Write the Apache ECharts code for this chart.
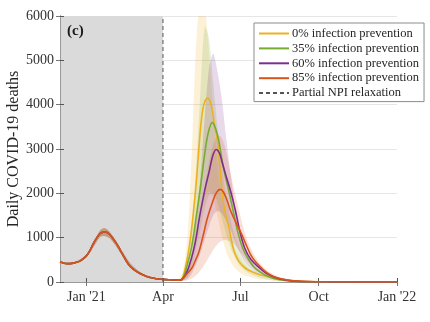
<!DOCTYPE html>
<html><head><meta charset="utf-8">
<script src="https://cdn.jsdelivr.net/npm/echarts@6/dist/echarts.min.js"></script>
<style>html,body{margin:0;padding:0;background:#fff}#c{width:430px;height:322px}</style>
</head><body><div id="c"></div>
<script>
// x values are days counted from 1 Dec 2020
const X_MIN = 0, X_MAX = 396;
const NPI_DAY = 121; // 1 Apr 2021
const Y_MIN = 0, Y_MAX = 6000, Y_STEP = 1000;
const TICK_DAYS = [31, 121, 212, 304, 396];
const TICK_LABELS = ["Jan '21", "Apr", "Jul", "Oct", "Jan '22"];

const NAMES = ['0% infection prevention', '35% infection prevention', '60% infection prevention', '85% infection prevention'];
const NPI_NAME = 'Partial NPI relaxation';
const COLORS = ['#EDB120', '#77AC30', '#7E2F8E', '#D95319'];

// common history (all scenarios)
const BASE_DAYS   = [0, 4, 8, 14, 20, 24, 31, 35, 39, 43, 47, 52, 56, 59, 63, 67, 71, 74.5, 78, 82, 88, 94, 100, 106, 113, 121, 128, 135, 141];
const BASE_DEATHS = [450, 428, 415, 420, 452, 478, 590, 700, 860, 990, 1090, 1130, 1110, 1060, 960, 850, 710, 590, 470, 360, 260, 190, 140, 100, 75, 60, 50, 44, 40];

// scenario projections
const Y0_DAYS  = [144, 147, 151, 154, 156, 159.6, 162.5, 165.7, 169, 173.6, 177.5, 181.3, 185.3, 188.4, 190.4, 192.4, 195, 198.2, 201, 204.1, 208, 211.9, 218, 225.6, 236, 249, 260, 275, 295, 330, 396];
const Y0       = [100, 300, 690, 1100, 1440, 2130, 2830, 3580, 4000, 4150, 4000, 3580, 3150, 2450, 2075, 1750, 1480, 1250, 980, 722, 540, 422, 310, 232, 160, 105, 60, 25, 8, 3, 1];
const G35_DAYS = [145, 149, 153.6, 157, 159.8, 165, 169.6, 174, 179, 183, 186.5, 190, 193.5, 199, 204, 209, 214.7, 220, 227.6, 235, 245.2, 258, 272, 290, 330, 396];
const G35      = [110, 350, 690, 1050, 1436, 2130, 2830, 3350, 3600, 3450, 3200, 2800, 2450, 2000, 1560, 1120, 760, 560, 345, 230, 120, 50, 18, 6, 2, 1];
const P60_DAYS = [146, 150.8, 156.6, 160, 163.7, 170.4, 175.4, 179.5, 183.5, 187.5, 190.5, 194.2, 200.1, 206, 211.9, 217.4, 224, 232.7, 242, 252, 265, 280, 300, 340, 396];
const P60      = [120, 310, 690, 1000, 1436, 2100, 2500, 2850, 2990, 2900, 2700, 2450, 2075, 1625, 1098, 750, 520, 345, 200, 110, 45, 15, 5, 2, 1];
const O85_DAYS = [143.5, 148, 154.8, 159, 163.3, 168.4, 173.1, 179.4, 184, 188.4, 192, 196.2, 200.1, 206, 213, 218, 224, 230, 235.4, 243, 251.5, 260, 272, 290, 320, 396];
const O85      = [70, 160, 309, 480, 684, 1060, 1436, 1812, 2020, 2090, 2030, 1850, 1625, 1370, 1098, 870, 620, 450, 345, 210, 120, 70, 30, 10, 4, 2];

// uncertainty bands
const BASE_BAND_DAYS = [0, 10, 20, 31, 40, 47, 52, 58, 66, 75, 85, 95, 106, 121, 130];
const BASE_LO = [435, 405, 440, 560, 810, 1010, 1040, 990, 800, 540, 300, 175, 92, 52, 42];
const BASE_HI = [465, 430, 470, 620, 900, 1160, 1220, 1140, 920, 640, 370, 215, 112, 68, 50];
const BAND_DAYS = [135, 140, 145, 150, 155, 160, 165, 170, 175, 180, 185, 190, 195, 200, 205, 210, 215, 220, 230, 240, 250, 260, 275, 290, 320, 396];
const Y0_HI  = [45, 80, 300, 1100, 3000, 5400, 6300, 6200, 5200, 3900, 2700, 1900, 1400, 1050, 780, 580, 440, 340, 200, 120, 70, 40, 15, 6, 2, 1];
const Y0_LO  = [40, 35, 40, 150, 500, 1000, 1500, 1900, 2050, 1900, 1500, 1050, 700, 480, 330, 230, 170, 130, 80, 50, 30, 20, 8, 4, 1, 0];
const G35_HI = [42, 45, 150, 500, 1300, 2600, 4300, 5750, 5500, 4500, 3500, 2650, 1950, 1450, 1050, 780, 570, 420, 240, 135, 72, 36, 13, 5, 2, 1];
const G35_LO = [40, 38, 40, 100, 350, 750, 1200, 1650, 1950, 2000, 1800, 1450, 1100, 800, 570, 400, 300, 220, 130, 75, 40, 20, 8, 3, 1, 0];
const P60_HI = [42, 42, 100, 300, 700, 1400, 2400, 3700, 4800, 5150, 4750, 4150, 3300, 2500, 1800, 1250, 900, 650, 350, 200, 110, 55, 20, 7, 2, 1];
const P60_LO = [40, 38, 35, 80, 200, 400, 650, 950, 1250, 1500, 1600, 1550, 1400, 1200, 950, 720, 540, 400, 230, 130, 70, 35, 12, 4, 1, 0];
const O85_HI = [42, 45, 120, 300, 600, 1000, 1500, 2100, 2700, 3100, 3300, 3250, 2950, 2500, 2050, 1650, 1250, 950, 550, 320, 180, 95, 35, 12, 3, 1];
const O85_LO = [40, 30, 20, 40, 80, 150, 260, 400, 560, 720, 850, 930, 950, 920, 850, 720, 600, 470, 280, 160, 90, 45, 15, 5, 1, 0];

const FONT = 'Liberation Serif, Times New Roman, serif';
const pairs = (d, v) => d.map((x, i) => [x, v[i]]);

const scen = [
  {days: Y0_DAYS, vals: Y0, hi: Y0_HI, lo: Y0_LO},
  {days: G35_DAYS, vals: G35, hi: G35_HI, lo: G35_LO},
  {days: P60_DAYS, vals: P60, hi: P60_HI, lo: P60_LO},
  {days: O85_DAYS, vals: O85, hi: O85_HI, lo: O85_LO}
];

const series = [];
series.push({
  name: NPI_NAME, type: 'line', symbol: 'none', z: 4,
  data: [[NPI_DAY, Y_MIN], [NPI_DAY, Y_MAX]],
  lineStyle: {color: '#555', width: 1, type: [4, 3]},
  itemStyle: {color: '#555'},
  markArea: {silent: true, z: 0, itemStyle: {color: '#dadada'}, data: [[{xAxis: X_MIN}, {xAxis: NPI_DAY}]]}
});
// uncertainty bands: one polygon per scenario, placed through the axes with api.coord
scen.forEach((s, i) => {
  const days = BASE_BAND_DAYS.concat(BAND_DAYS);
  const lo = BASE_LO.concat(s.lo);
  const hi = BASE_HI.concat(s.hi);
  const color = COLORS[i];
  series.push({
    type: 'custom', silent: true, z: 2, clip: true,
    data: days.map((d, k) => [d, lo[k], hi[k]]),
    encode: {x: 0, y: [1, 2]},
    renderItem: function (params, api) {
      if (params.dataIndex !== 0) return null;
      const pts = [];
      for (let k = 0; k < days.length; k++) pts.push(api.coord([days[k], hi[k]]));
      for (let k = days.length - 1; k >= 0; k--) pts.push(api.coord([days[k], lo[k]]));
      return {type: 'polygon', shape: {points: pts, smooth: 0.3},
        style: {fill: color, opacity: 0.18}};
    }
  });
});
scen.forEach((s, i) => {
  series.push({
    name: NAMES[i], type: 'line', symbol: 'none', smooth: 0.35, z: 3,
    data: pairs(BASE_DAYS.concat(s.days), BASE_DEATHS.concat(s.vals)),
    lineStyle: {color: COLORS[i], width: 1.6}, itemStyle: {color: COLORS[i]}
  });
});

const chart = echarts.init(document.getElementById('c'), null, {renderer: 'canvas'});
chart.setOption({
  animation: false,
  backgroundColor: '#fff',
  title: {text: '(c)', left: 67, top: 24, padding: 0,
    textStyle: {fontFamily: FONT, fontWeight: 'bold', fontSize: 15, color: '#1a1a1a'}},
  grid: {left: 60, right: 33, top: 16, bottom: 40, outerBoundsMode: 'none', containLabel: false},
  legend: {
    data: NAMES.concat([NPI_NAME]), orient: 'vertical', left: 254, top: 23,
    itemWidth: 30, itemHeight: 14, itemGap: 1.9, padding: [4, 5, 2, 4],
    backgroundColor: '#fff', borderColor: '#8c8c8c', borderWidth: 1, borderRadius: 0,
    selectedMode: false, itemStyle: {opacity: 0},
    textStyle: {fontFamily: FONT, fontSize: 12.5, color: '#262626', padding: [0, 0, 0, -2]}
  },
  xAxis: [{
    type: 'value', min: X_MIN, max: X_MAX,
    axisLine: {lineStyle: {color: '#555'}},
    axisTick: {inside: true, length: 4, customValues: TICK_DAYS, lineStyle: {color: '#555'}},
    axisLabel: {customValues: TICK_DAYS, margin: 8, fontFamily: FONT, fontSize: 14, color: '#333',
      formatter: v => TICK_LABELS[TICK_DAYS.indexOf(v)]},
    splitLine: {show: false}
  }, {
    type: 'value', position: 'top', min: X_MIN, max: X_MAX,
    axisLine: {show: true, lineStyle: {color: '#999'}},
    axisTick: {show: true, inside: true, length: 4, customValues: TICK_DAYS, lineStyle: {color: '#777'}},
    axisLabel: {show: false}, splitLine: {show: false}
  }],
  yAxis: [{
    type: 'value', min: Y_MIN, max: Y_MAX, interval: Y_STEP,
    name: 'Daily COVID-19 deaths', nameLocation: 'middle', nameGap: 38, nameMoveOverlap: false,
    nameTextStyle: {fontFamily: FONT, fontSize: 16, color: '#262626'},
    axisLine: {show: true, lineStyle: {color: '#555'}},
    axisTick: {show: true, inside: true, length: 4, lineStyle: {color: '#555'}},
    axisLabel: {margin: 6, fontFamily: FONT, fontSize: 14, color: '#333', formatter: v => String(v)},
    splitLine: {show: true, lineStyle: {color: '#e6e6e6', width: 1}}
  }, {
    type: 'value', position: 'right', min: Y_MIN, max: Y_MAX, interval: Y_STEP,
    axisLine: {show: true, lineStyle: {color: '#999'}},
    axisTick: {show: true, inside: true, length: 4, lineStyle: {color: '#777'}},
    axisLabel: {show: false}, splitLine: {show: false}
  }],
  series: series
});
</script></body></html>
